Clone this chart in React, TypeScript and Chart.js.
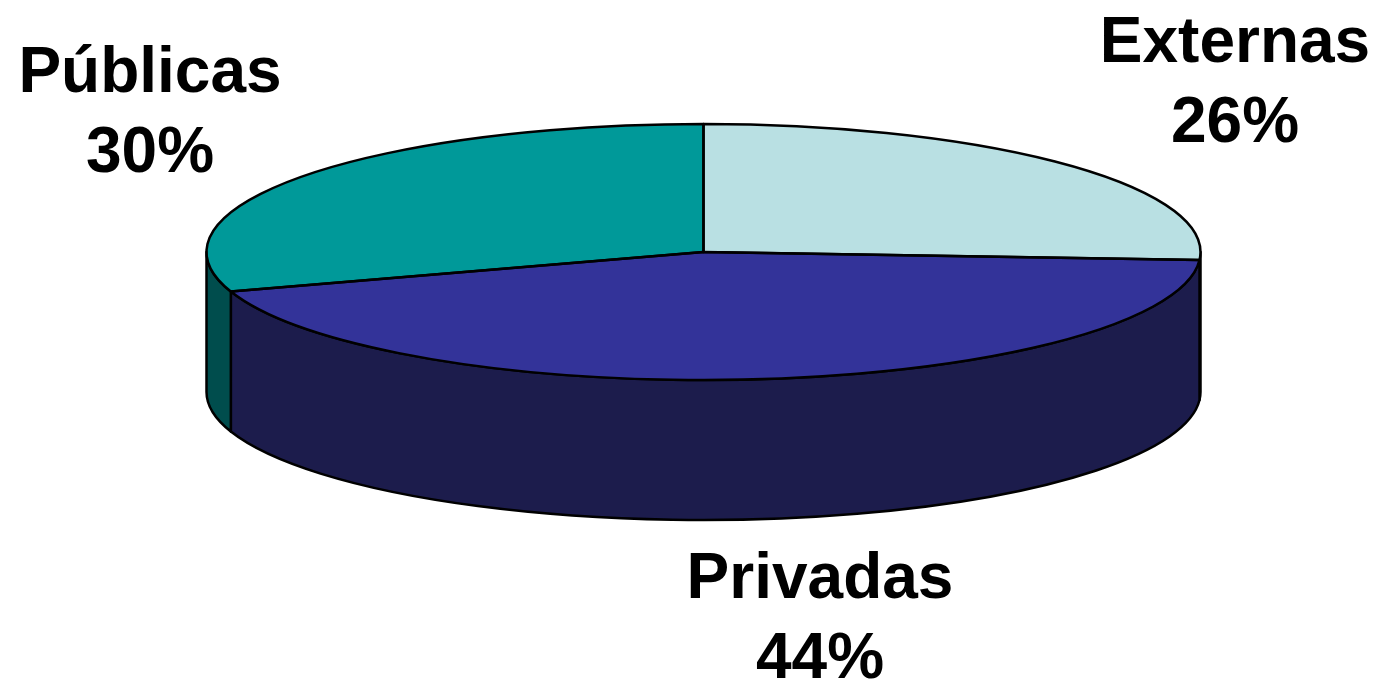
import React, { useEffect, useRef } from "react";
import { Chart, registerables } from "chart.js";

Chart.register(...registerables);

const categories = ["Externas", "Privadas", "Públicas"];
const values = [26, 44, 30];
const percentLabels = ["26%", "44%", "30%"];
const topColors = ["#B9E0E3", "#333399", "#009999"];
const sideColors = ["#7FA3A6", "#1C1C4C", "#004D4D"];

const W = 1381;
const H = 679;
const RX = 497;
const RY = 128;
const DEPTH = 140;
const K = RY / RX;

const labelPos: Record<string, [number, number]> = {
  Externas: [1235, 62],
  Privadas: [820, 598],
  "Públicas": [150, 92],
};

const pie3d = {
  id: "pie3d",
  beforeDatasetsDraw(chart: any) {
    const ctx = chart.ctx as CanvasRenderingContext2D;
    const arcs = chart.getDatasetMeta(0).data as any[];
    if (!arcs.length) return;
    const cx = arcs[0].x;
    const cy = arcs[0].y;
    const r = arcs[0].outerRadius;
    const ry = r * K;
    ctx.save();
    ctx.lineWidth = 2.5;
    ctx.lineJoin = "round";
    ctx.strokeStyle = "#000";
    arcs.forEach((a: any, i: number) => {
      const s = a.startAngle;
      const e = a.endAngle;
      const ranges: [number, number][] = [];
      for (const off of [0, 2 * Math.PI, -2 * Math.PI]) {
        const a1 = Math.max(s + off, 0);
        const a2 = Math.min(e + off, Math.PI);
        if (a2 > a1) ranges.push([a1, a2]);
      }
      ranges.forEach(([a1, a2]) => {
        ctx.beginPath();
        ctx.ellipse(cx, cy, r, ry, 0, a1, a2, false);
        ctx.lineTo(cx + r * Math.cos(a2), cy + ry * Math.sin(a2) + DEPTH);
        ctx.ellipse(cx, cy + DEPTH, r, ry, 0, a2, a1, true);
        ctx.closePath();
        ctx.fillStyle = sideColors[i];
        ctx.fill();
        ctx.stroke();
      });
    });
    ctx.restore();
    ctx.save();
    ctx.translate(cx, cy);
    ctx.scale(1, K);
    ctx.translate(-cx, -cy);
  },
  afterDatasetsDraw(chart: any) {
    const ctx = chart.ctx as CanvasRenderingContext2D;
    ctx.restore();
    const arcs = chart.getDatasetMeta(0).data as any[];
    if (!arcs.length) return;
    const cx = arcs[0].x;
    const cy = arcs[0].y;
    const r = arcs[0].outerRadius;
    const ry = r * K;
    ctx.save();
    ctx.lineWidth = 2.5;
    ctx.lineJoin = "round";
    ctx.strokeStyle = "#000";
    arcs.forEach((a: any) => {
      ctx.beginPath();
      ctx.moveTo(cx, cy);
      ctx.lineTo(cx + r * Math.cos(a.startAngle), cy + ry * Math.sin(a.startAngle));
      ctx.ellipse(cx, cy, r, ry, 0, a.startAngle, a.endAngle, false);
      ctx.closePath();
      ctx.stroke();
    });
    ctx.restore();
  },
  afterDraw(chart: any) {
    const ctx = chart.ctx as CanvasRenderingContext2D;
    ctx.save();
    ctx.fillStyle = "#000";
    ctx.font = "bold 64px 'Liberation Sans', Arial, sans-serif";
    ctx.textAlign = "center";
    ctx.textBaseline = "alphabetic";
    categories.forEach((c, i) => {
      const [x, y] = labelPos[c];
      ctx.fillText(c, x, y);
      ctx.fillText(percentLabels[i], x, y + 80);
    });
    ctx.restore();
  },
};

export default function App() {
  const ref = useRef<HTMLCanvasElement | null>(null);
  useEffect(() => {
    if (!ref.current) return;
    const chart = new Chart(ref.current, {
      type: "pie",
      data: {
        labels: categories,
        datasets: [
          {
            data: values,
            backgroundColor: topColors,
            borderWidth: 0,
            radius: RX,
          } as any,
        ],
      },
      options: {
        responsive: false,
        animation: false,
        layout: { padding: { left: 26, right: 0, top: 0, bottom: 175 } },
        plugins: {
          legend: { display: false },
          tooltip: { enabled: false },
        },
        events: [],
      },
      plugins: [pie3d],
    });
    return () => chart.destroy();
  }, []);
  return (
    <div style={{ position: "fixed", left: 0, top: 0, width: W, height: H, background: "#fff" }}>
      <canvas ref={ref} width={W} height={H} style={{ width: W, height: H, display: "block" }} />
    </div>
  );
}
